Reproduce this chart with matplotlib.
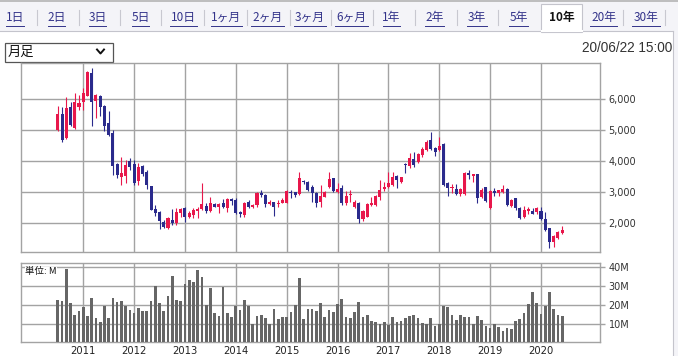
import matplotlib
matplotlib.use('Agg')
import matplotlib.pyplot as plt
from matplotlib.patches import Rectangle
import pandas as pd

# monthly candles, 2010/07 .. 2020/06
months = pd.date_range('2010-07-01', periods=120, freq='MS')

opens = [5001, 5514, 4734, 5727, 5065, 5727, 5877, 6090, 6817, 5909,
         6069, 5770, 5215, 4894, 3912, 3484, 3506, 3986, 3912, 3346,
         3826, 3645, 3185, 2470, 2363, 2043, 1851, 2117, 2011, 2320,
         2481, 2214, 2267, 2395, 2449, 2566, 2406, 2619, 2534, 2641,
         2481, 2769, 2748, 2374, 2267, 2694, 2513, 2587, 2961, 2908,
         2609, 2673, 2619, 2662, 2662, 3015, 2993, 2940, 3346, 3335,
         3175, 2983, 2694, 2854, 3175, 3442, 3015, 3121, 2641, 2897,
         2513, 2641, 2128, 2214, 2577, 2587, 2833, 3089, 3175, 3228,
         3517, 3335, 3890, 3837, 4061, 3976, 4189, 4350, 4670, 4424,
         4350, 4531, 3282, 3121, 3100, 2929, 2929, 3602, 3527, 3570,
         2854, 3153, 2481, 3036, 2961, 2993, 3100, 2555, 2801, 2481,
         2203, 2406, 2406, 2352, 2406, 2139, 1840, 1413, 1519, 1680]
highs = [5749, 5717, 6048, 5877, 6176, 6101, 6336, 6881, 6977, 6144,
         6101, 5790, 5588, 5001, 3933, 4115, 4019, 4083, 4040, 3933,
         3880, 3698, 3185, 2598, 2384, 2096, 2203, 2460, 2491, 2481,
         2513, 2395, 2481, 2534, 3282, 2641, 2854, 2662, 2641, 2769,
         2801, 2801, 2801, 2395, 2694, 2748, 2609, 3015, 3068, 2929,
         2748, 2694, 2748, 2801, 3068, 3068, 3015, 3655, 3388, 3356,
         3217, 3015, 3217, 3036, 3634, 3463, 3282, 3228, 3047, 3068,
         2748, 2694, 2427, 2641, 2854, 2908, 3388, 3335, 3655, 3655,
         3549, 3495, 3922, 4264, 4275, 4243, 4456, 4670, 4937, 4456,
         4777, 4563, 3314, 3250, 3250, 3121, 3655, 3709, 3580, 3591,
         3143, 3175, 3057, 3121, 3068, 3228, 3121, 2780, 2822, 2534,
         2566, 2534, 2481, 2534, 2534, 2352, 1861, 1626, 1754, 1925]
lows = [4948, 4617, 4702, 5108, 5033, 5620, 5642, 6069, 5108, 5375,
        5428, 4948, 4787, 3559, 3452, 3239, 3292, 3719, 3239, 3239,
        3527, 3100, 2417, 2224, 1829, 1851, 1818, 1957, 1957, 2214,
        2053, 2160, 2160, 2160, 2427, 2320, 2374, 2513, 2320, 2481,
        2374, 2587, 2299, 2214, 2214, 2481, 2481, 2534, 2854, 2534,
        2587, 2246, 2513, 2641, 2641, 2801, 2854, 2908, 3260, 3047,
        2694, 2513, 2513, 2833, 3121, 3015, 2961, 2587, 2587, 2694,
        2480, 2000, 2085, 2192, 2555, 2555, 2748, 3047, 3143, 3196,
        3121, 3282, 3602, 3762, 3816, 3944, 4136, 4328, 4350, 4168,
        4318, 3207, 2886, 2961, 2908, 2886, 2908, 3420, 3335, 2641,
        2822, 2673, 2459, 2886, 2886, 2961, 2566, 2534, 2427, 2139,
        2182, 2288, 2288, 2288, 2107, 1765, 1220, 1252, 1498, 1658]
closes = [5514, 4681, 5695, 5150, 5877, 5855, 6176, 6838, 5877, 6122,
          5717, 5108, 4841, 3848, 3559, 3613, 3880, 3794, 3292, 3805,
          3581, 3239, 2438, 2331, 2064, 1883, 2171, 2011, 2374, 2449,
          2214, 2320, 2427, 2470, 2619, 2406, 2641, 2534, 2619, 2513,
          2769, 2726, 2320, 2299, 2662, 2513, 2587, 2983, 2908, 2609,
          2673, 2534, 2662, 2748, 3047, 2961, 2908, 3442, 3314, 3068,
          2983, 2662, 2876, 3015, 3410, 3047, 3100, 2662, 2876, 2940,
          2694, 2128, 2406, 2619, 2641, 2876, 3068, 3175, 3282, 3495,
          3388, 3474, 3858, 4104, 3869, 4211, 4371, 4600, 4382, 4296,
          4478, 3228, 3143, 3175, 2940, 3089, 3623, 3559, 3570, 2822,
          3068, 2716, 3036, 2983, 3057, 3089, 2587, 2748, 2502, 2182,
          2427, 2459, 2299, 2481, 2139, 1786, 1413, 1605, 1733, 1786]
# volume in millions of shares
volumes = [22.6, 22.1, 38.9, 21.1, 14.7, 16.8, 18.9, 14.2, 23.7, 13.3,
           11.1, 19.5, 13.2, 23.7, 21.6, 22.1, 19.8, 17.4, 15.8, 18.4,
           16.8, 16.8, 22.1, 30.0, 21.1, 16.8, 24.7, 35.3, 22.6, 22.1,
           31.1, 33.2, 32.1, 38.4, 34.7, 20.0, 28.9, 15.8, 14.2, 29.5,
           15.8, 13.7, 19.5, 17.4, 22.6, 19.5, 10.0, 14.2, 14.7, 13.2,
           10.0, 17.9, 12.6, 13.7, 13.7, 16.3, 20.0, 34.2, 12.6, 17.9,
           17.9, 16.8, 21.1, 13.7, 17.4, 16.3, 20.5, 23.2, 13.7, 13.2,
           16.3, 21.6, 13.7, 14.7, 11.6, 11.1, 10.0, 11.1, 9.6, 13.7,
           11.1, 11.6, 13.2, 14.2, 14.7, 13.2, 10.5, 10.0, 13.2, 9.1,
           10.0, 19.5, 18.9, 14.7, 12.1, 14.7, 13.7, 13.7, 10.0, 14.2,
           12.1, 9.1, 7.9, 10.0, 8.4, 6.3, 7.9, 7.4, 11.6, 12.6,
           15.8, 20.5, 26.8, 21.1, 15.3, 19.5, 26.8, 17.9, 14.7, 14.2]

price_ticks = [2000, 3000, 4000, 5000, 6000]
vol_ticks = [10, 20, 30, 40]
tab_labels = ['1日', '2日', '3日', '5日', '10日', '1ヶ月', '2ヶ月', '3ヶ月',
              '6ヶ月', '1年', '2年', '3年', '5年', '10年', '20年', '30年']
selected_tab = '10年'
period_label = '月足'
timestamp = '20/06/22 15:00'

UP = '#e8174b'
DOWN = '#2a2a8c'
GRID = '#a3a3a3'
CJK = ['Noto Sans CJK JP', 'DejaVu Sans']

W, H = 678, 356
fig = plt.figure(figsize=(W / 100, H / 100), dpi=100)
fig.patch.set_facecolor('white')

# page chrome drawn in pixel coordinates
bg = fig.add_axes([0, 0, 1, 1], zorder=0)
bg.set_xlim(0, W)
bg.set_ylim(H, 0)
bg.axis('off')
bg.add_patch(Rectangle((0, 0), W, 31, facecolor='#f4f4f8', edgecolor='none'))
bg.add_patch(Rectangle((673, 31), 5, H - 31, facecolor='#f4f4f8', edgecolor='none'))
bg.plot([0, W], [0.8, 0.8], color='#b4b4b4', lw=1.2)
bg.plot([0, 541], [31, 31], color='#c4c4cc', lw=0.8)
bg.plot([582, 673], [31, 31], color='#c4c4cc', lw=0.8)
bg.plot([673, 673], [31, H], color='#c4c4cc', lw=0.8)
bg.add_patch(Rectangle((541, 4), 41, 27.5, facecolor='white', edgecolor='#c4c4cc', lw=0.8))
bg.plot([541.5, 581.5], [31, 31], color='white', lw=1.5)

tab_x = [15.2, 56.5, 97.5, 140.5, 183.5, 226.5, 267.5, 310, 351.5, 391.5,
         434.5, 477, 518.5, 562, 603.5, 646]
tab_w = [17.5, 17, 17, 17, 27, 31, 33, 32, 33, 17, 19, 20, 19, 28, 27, 28]
for lab, x, w in zip(tab_labels, tab_x, tab_w):
    if lab == selected_tab:
        bg.text(x, 17.5, lab, ha='center', va='center', fontsize=8.5,
                family=CJK, fontweight='bold', color='#111111')
    else:
        bg.text(x, 17.5, lab, ha='center', va='center', fontsize=8.5,
                family=CJK, color='#33338a')
        bg.plot([x - w / 2, x + w / 2], [25.5, 25.5], color='#33338a', lw=0.7)
for sx in [36.8, 78.8, 120.3, 161, 203.5, 246.8, 290, 331, 373, 414.7,
           456.7, 497.8, 623, 664.5]:
    bg.plot([sx, sx], [10, 25], color='#c8c8d0', lw=0.8)

# period selector
bg.add_patch(Rectangle((5, 42.5), 108, 19, facecolor='white', edgecolor='#555555', lw=0.9))
bg.text(8, 52.5, period_label, ha='left', va='center', fontsize=9.5, family=CJK, color='#111111')
bg.plot([97, 100.5, 104], [49.5, 53.5, 49.5], color='#111111', lw=1.4)
bg.text(672, 47.5, timestamp, ha='right', va='center', fontsize=9.8,
        family='Liberation Sans', color='#333333')

# chart panels
left, right = 20.5, 599.5
ax = fig.add_axes([left / W, 1 - 251.7 / H, (right - left) / W, (251.7 - 62.5) / H], zorder=1)
vax = fig.add_axes([left / W, 1 - 342.3 / H, (right - left) / W, (342.3 - 263.3) / H], zorder=1)

idx = list(range(len(months)))
year_pos = [i for i, m in enumerate(months) if m.month == 1]
year_lab = [str(months[i].year) for i in year_pos]

for i, o, h, l, c in zip(idx, opens, highs, lows, closes):
    col = UP if c >= o else DOWN
    ax.vlines(i, l, h, color=col, lw=0.8, zorder=3)
    ax.bar(i, max(abs(c - o), 30), bottom=min(o, c), width=0.72, color=col, zorder=4)

vax.bar(idx, volumes, width=0.64, color='#666666', zorder=3)

for a in (ax, vax):
    a.set_facecolor('white')
    a.set_xlim(-8.8, 127.8)
    a.set_xticks(year_pos)
    a.grid(True, color=GRID, lw=1.0)
    a.set_axisbelow(True)
    for s in a.spines.values():
        s.set_color(GRID)
        s.set_linewidth(1.0)
    a.yaxis.tick_right()
    a.tick_params(axis='y', length=3.6, width=1.0, color=GRID, pad=3,
                  labelsize=7, labelcolor='#333333')
    a.tick_params(axis='x', length=0, pad=2.5, labelsize=7.2, labelcolor='#222222')

ax.set_ylim(1090, 7154)
ax.set_yticks(price_ticks)
ax.set_yticklabels([f'{v:,}' for v in price_ticks])
ax.set_xticklabels([])

vax.set_ylim(0.5, 42.1)
vax.set_yticks(vol_ticks)
vax.set_yticklabels([f'{v}M' for v in vol_ticks])
vax.set_xticklabels(year_lab)
vax.text(0.008, 0.895, '単位: M', transform=vax.transAxes, ha='left', va='center',
         fontsize=6.8, family=CJK, color='#111111', zorder=5,
         bbox=dict(facecolor='white', edgecolor='none', pad=0.3))

fig.savefig('out.png', dpi=100)
plt.close(fig)
